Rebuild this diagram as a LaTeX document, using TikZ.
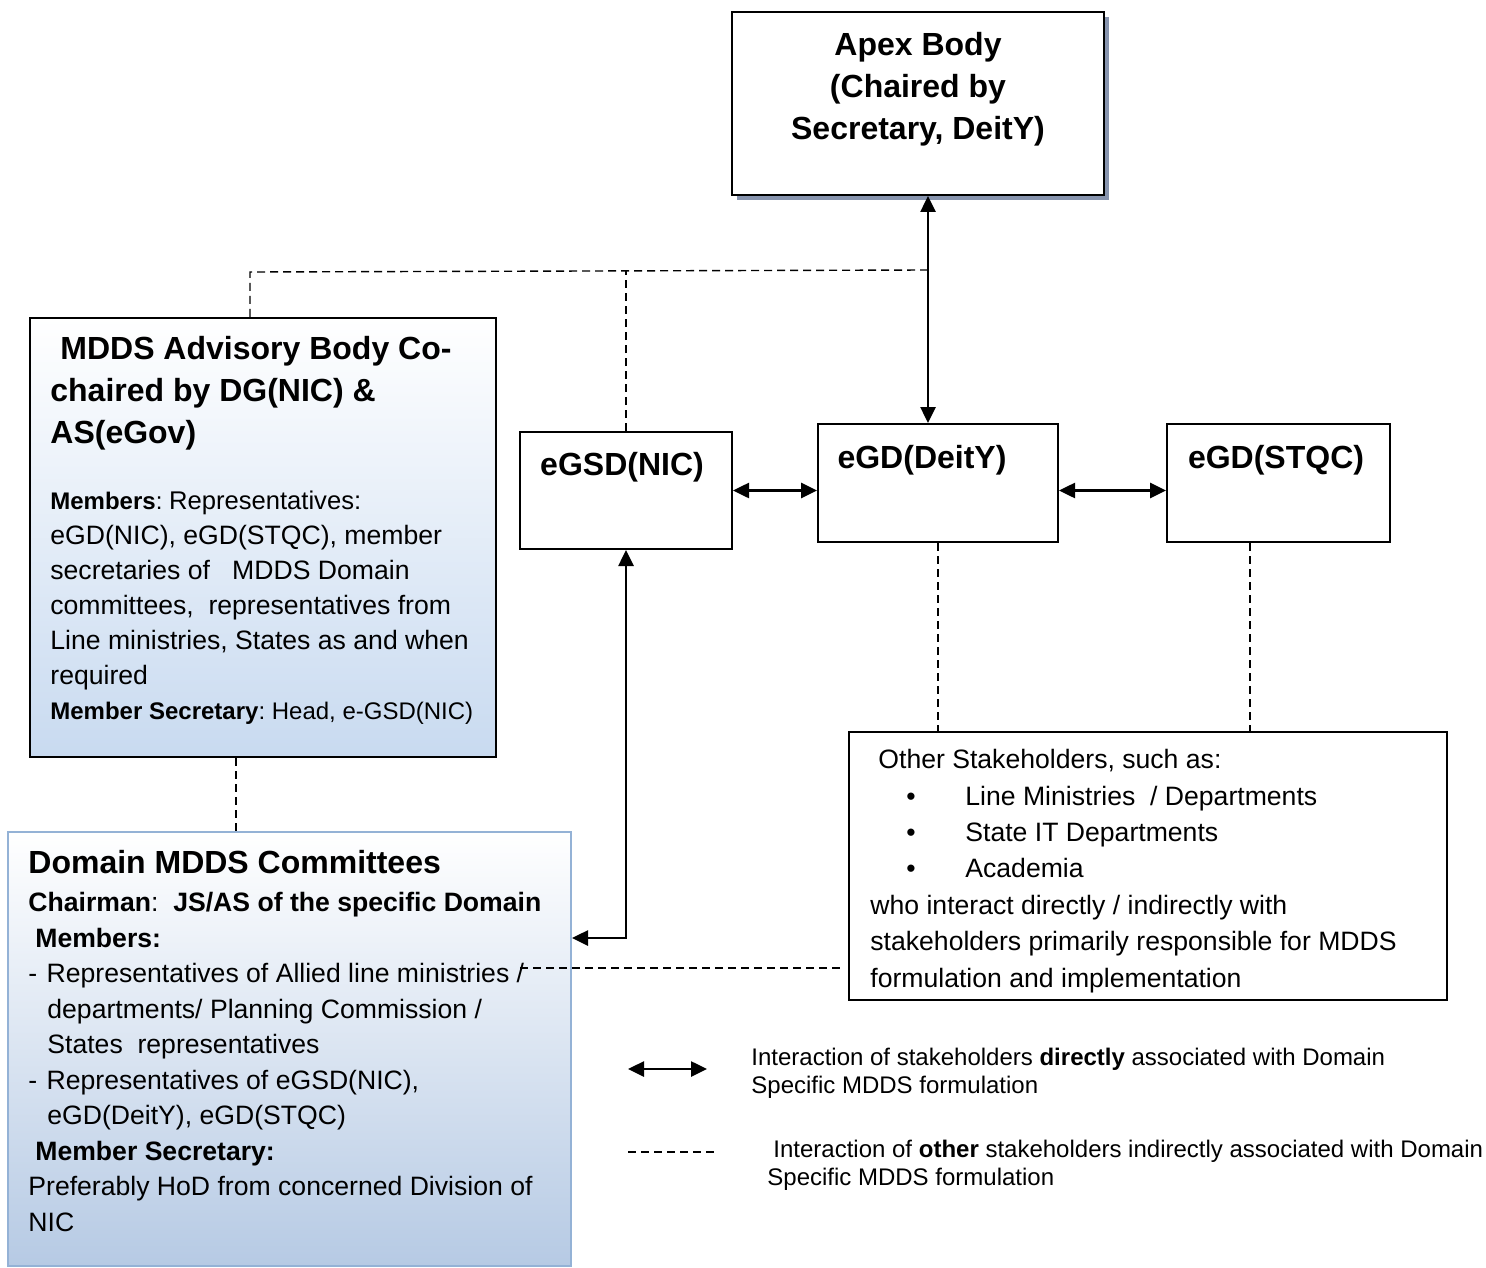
\documentclass[tikz,border=0pt]{standalone}
\usepackage{fontspec}
\setmainfont{Liberation Sans}
\frenchspacing
\usetikzlibrary{arrows.meta}
\usetikzlibrary{fit}
\usetikzlibrary{shadows}

\definecolor{advblue}{RGB}{200,218,240}
\definecolor{domblue}{RGB}{182,202,228}
\definecolor{domedge}{RGB}{148,178,214}
\definecolor{apexshade}{RGB}{135,148,174}

\tikzset{
  unit/.style={draw, line width=1pt, inner sep=0pt, fill=white},
  heading/.style={inner sep=0pt, font=\bfseries\fontsize{16}{21}\selectfont},
  body/.style={inner sep=0pt, align=left, font=\fontsize{13.3}{17.5}\selectfont},
  keytext/.style={inner sep=0pt, align=left, font=\fontsize{12}{14}\selectfont},
  direct/.style={line width=1.3pt, {Triangle[length=8pt,width=7.5pt]}-{Triangle[length=8pt,width=7.5pt]}},
  indirect/.style={line width=0.7pt, dash pattern=on 4pt off 2.5pt},
}

\begin{document}
\begin{tikzpicture}[x=0.5pt,y=-0.5pt]
\useasboundingbox (0,0) rectangle (1486,1267);

% boxes
\node[unit, drop shadow={shadow xshift=2.5pt,shadow yshift=-2.5pt,fill=apexshade,opacity=1}, fit={(732,12) (1104,195)}] (apex) {};
\node[unit, fit={(520,432) (732,549)}] (egsd) {};
\node[unit, fit={(818,424) (1058,542)}] (deity) {};
\node[unit, fit={(1167,424) (1390,542)}] (stqc) {};
\node[unit, top color=white, bottom color=advblue, fit={(30,318) (496,757)}] (advisory) {};
\node[unit, draw=domedge, top color=white, bottom color=domblue, fit={(8,832) (571,1266)}] (domain) {};
\node[unit, fit={(849,732) (1447,1000)}] (others) {};

% texts
\node[heading, align=center, anchor=north] (apex-label) at (918,32) {Apex Body\\(Chaired by\\Secretary, DeitY)};
\node[heading, anchor=north] (egsd-label) at (622,452) {eGSD(NIC)};
\node[heading, anchor=north] (deity-label) at (922,445) {eGD(DeitY)};
\node[heading, anchor=north] (stqc-label) at (1276,445) {eGD(STQC)};

\node[heading, align=left, anchor=north west] (advisory-title) at (50,336) {\hspace*{5pt}MDDS Advisory Body Co-\\chaired by DG(NIC) \&\\AS(eGov)};
\node[body, anchor=north west] (advisory-body) at (50,491) {{\fontsize{12}{17.5}\selectfont\textbf{Members}: }{\fontsize{12.8}{17.5}\selectfont Representatives:}\\
  eGD(NIC), eGD(STQC), member\\
  secretaries of \ \ MDDS Domain\\
  committees, \ representatives from\\
  Line ministries, States as and when\\
  required\\
  {\fontsize{12}{17.5}\selectfont\textbf{Member Secretary}: Head, e-GSD(NIC)}};

\node[heading, anchor=north west] (domain-title) at (28,850) {Domain MDDS Committees};
\node[body, font=\fontsize{13.3}{17.75}\selectfont, anchor=north west] (domain-body) at (28,892) {\textbf{Chairman}:\ \ \textbf{JS/AS of the specific Domain}\\
  \hspace*{3.5pt}\textbf{Members:}\\
  - \hspace*{1pt}Representatives of Allied line ministries /\\
  \hspace*{9.5pt}departments/ Planning Commission /\\
  \hspace*{9.5pt}States \ representatives\\
  - \hspace*{1pt}Representatives of eGSD(NIC),\\
  \hspace*{9.5pt}eGD(DeitY), eGD(STQC)\\
  \hspace*{3.5pt}\textbf{Member Secretary:}\\
  Preferably HoD from concerned Division of\\
  NIC};

\node[body, font=\fontsize{13.3}{18.2}\selectfont, anchor=north west] (others-body) at (870,749) {\hspace*{4pt}Other Stakeholders, such as:\\
  \hspace*{18pt}\makebox[29.5pt][l]{\textbullet}Line Ministries \ / Departments\\
  \hspace*{18pt}\makebox[29.5pt][l]{\textbullet}State IT Departments\\
  \hspace*{18pt}\makebox[29.5pt][l]{\textbullet}Academia\\
  who interact directly / indirectly with\\
  stakeholders primarily responsible for MDDS\\
  formulation and implementation};

% connectors
\coordinate (junction) at (928,270);
\coordinate (advisory-drop) at (250,272);
\draw[direct] (apex.south -| junction) -- (deity.north -| junction);
\draw[indirect] (junction) -- (advisory-drop) -- (advisory-drop |- advisory.north);
\draw[indirect] (egsd.north) -- (egsd.north |- junction);
\draw[direct] (egsd.east) -- (egsd.east -| deity.west);
\draw[direct] (deity.east |- egsd.east) -- (stqc.west |- egsd.east);
\coordinate (elbow) at (626,938);
\draw[direct] (egsd.south) -- (elbow) -- (elbow -| domain.east);
\coordinate (advisory-link) at (236,790);
\draw[indirect] (advisory-link |- advisory.south) -- (advisory-link |- domain.north);
\draw[indirect] (deity.south) -- (deity.south |- others.north);
\coordinate (stqc-link) at (1250,640);
\draw[indirect] (stqc-link |- stqc.south) -- (stqc-link |- others.north);
\coordinate (cross-start) at (520,968);
\coordinate (cross-end) at (840,968);
\draw[indirect] (cross-start) -- (cross-end);

% key
\coordinate (key-direct-a) at (628,1069);
\coordinate (key-direct-b) at (707,1069);
\draw[direct] (key-direct-a) -- (key-direct-b);
\coordinate (key-indirect-a) at (628,1152);
\coordinate (key-indirect-b) at (718,1152);
\draw[indirect] (key-indirect-a) -- (key-indirect-b);
\node[keytext, anchor=north west] (key-direct-text) at (751,1048) {Interaction of stakeholders \textbf{directly} associated with Domain\\Specific MDDS formulation};
\node[keytext, anchor=north west] (key-indirect-text) at (767,1140) {\hspace*{3pt}Interaction of \textbf{other} stakeholders indirectly associated with Domain\\Specific MDDS formulation};
\end{tikzpicture}
\end{document}
